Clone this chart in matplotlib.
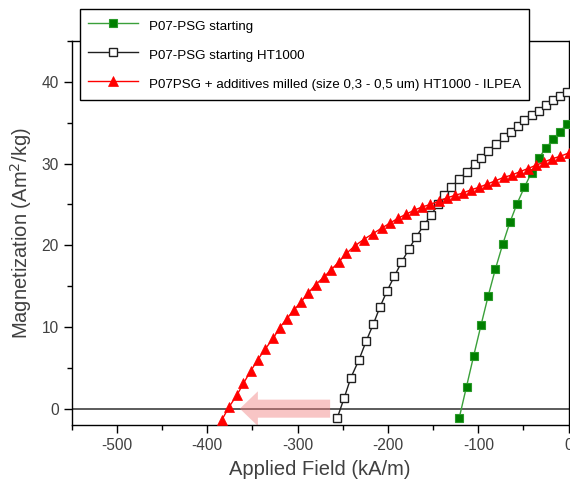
import numpy as np
import matplotlib
matplotlib.use("Agg")
import matplotlib.pyplot as plt
from matplotlib.patches import FancyArrowPatch
from matplotlib.ticker import MultipleLocator

plt.rcParams['font.family'] = ['Liberation Sans', 'DejaVu Sans']
plt.rcParams['axes.unicode_minus'] = False

# P07-PSG starting (filled green squares)
field_start = [-121, -113, -105, -97, -89, -81, -73, -65, -57, -49, -41, -33, -25, -17, -10, -2]
mag_start = [-1.1, 2.7, 6.5, 10.2, 13.8, 17.1, 20.1, 22.8, 25.1, 27.1, 28.9, 30.7, 31.9, 33.0, 33.9, 34.8]

# P07-PSG starting HT1000 (open squares)
field_ht = [-256, -248.5, -241, -232, -224, -216, -209, -201, -193, -185, -177, -169,
            -160, -152, -145, -138, -130, -121, -113, -104, -97, -89, -80, -72,
            -64, -56, -49, -40, -33, -25, -17, -10, -2]
mag_ht = [-1.1, 1.3, 3.8, 6.0, 8.3, 10.4, 12.4, 14.4, 16.2, 17.9, 19.5, 21.0,
          22.5, 23.7, 25.0, 26.1, 27.1, 28.1, 29.0, 29.9, 30.7, 31.6, 32.4, 33.2,
          33.9, 34.6, 35.3, 35.9, 36.5, 37.2, 37.8, 38.3, 38.8]

# P07PSG + additives milled HT1000 - ILPEA (red triangles)
field_add = [-384, -376, -367, -360, -352, -344, -336, -327, -320, -312, -304, -296,
             -288, -280, -271, -263, -254, -246, -237, -227, -217, -207, -198, -189,
             -180, -171, -162, -153, -144, -135, -126, -117, -108, -99, -90, -81,
             -72, -63, -54, -45, -36, -27, -18, -9, 0]
mag_add = [-1.4, 0.2, 1.7, 3.1, 4.6, 6.0, 7.3, 8.6, 9.9, 11.0, 12.1, 13.1,
           14.2, 15.2, 16.1, 17.0, 18.0, 19.0, 19.9, 20.7, 21.4, 22.1, 22.7, 23.3,
           23.8, 24.3, 24.7, 25.0, 25.4, 25.8, 26.1, 26.4, 26.8, 27.1, 27.5, 27.9,
           28.3, 28.6, 29.0, 29.4, 29.8, 30.2, 30.6, 30.9, 31.3]

labels = ['P07-PSG starting',
          'P07-PSG starting HT1000',
          'P07PSG + additives milled (size 0,3 - 0,5 um) HT1000 - ILPEA']

fig = plt.figure(figsize=(5.7, 4.86), dpi=100)
ax = fig.add_axes([0.126, 0.1255, 0.8715, 0.79])

ax.axhline(0, color='#404040', lw=1.2, zorder=1)

# coercivity shift arrow
arrow = FancyArrowPatch((-264, 0), (-364, 0),
                        arrowstyle='simple,head_length=13,head_width=25,tail_width=13',
                        mutation_scale=1, shrinkA=0, shrinkB=0,
                        color='#f08080', alpha=0.45, lw=0, zorder=1.5)
ax.add_patch(arrow)

ax.plot(field_start, mag_start, '-s', color='#3aa03a', lw=1.0, ms=5.8,
        mfc='#007f00', mec='#2a9a2a', mew=0.8, label=labels[0], zorder=3)
ax.plot(field_ht, mag_ht, '-s', color='#202020', lw=1.0, ms=5.8,
        mfc='white', mec='#202020', mew=1.0, label=labels[1], zorder=3)
ax.plot(field_add, mag_add, '-^', color='red', lw=1.0, ms=6.8,
        mfc='red', mec='red', mew=0.5, label=labels[2], zorder=4)

ax.set_xlim(-550, 0)
ax.set_ylim(-2, 45)
ax.xaxis.set_major_locator(MultipleLocator(100))
ax.xaxis.set_minor_locator(MultipleLocator(50))
ax.yaxis.set_major_locator(MultipleLocator(10))
ax.yaxis.set_minor_locator(MultipleLocator(5))
ax.tick_params(which='both', direction='out', top=False, right=False,
               colors='black', labelcolor='#404040', labelsize=11.2)
ax.tick_params(which='major', length=6, width=1)
ax.tick_params(which='minor', length=3.5, width=1)
for s in ax.spines.values():
    s.set_linewidth(1.0)
    s.set_color('black')

ax.set_xlabel('Applied Field (kA/m)', fontsize=14.5, color='#404040', labelpad=5)
ax.set_ylabel('Magnetization (Am$^2$/kg)', fontsize=14.5, color='#404040', labelpad=5)

leg = ax.legend(loc='upper left', bbox_to_anchor=(0.140, 0.982),
                bbox_transform=fig.transFigure, fontsize=9.6, frameon=True,
                fancybox=False, framealpha=1, edgecolor='black',
                handlelength=3.8, handleheight=1.6, handletextpad=0.8,
                labelspacing=0.9, borderpad=0.6, borderaxespad=0)
leg.get_frame().set_linewidth(1.0)
leg.set_zorder(10)

fig.savefig('out.png', dpi=100)
